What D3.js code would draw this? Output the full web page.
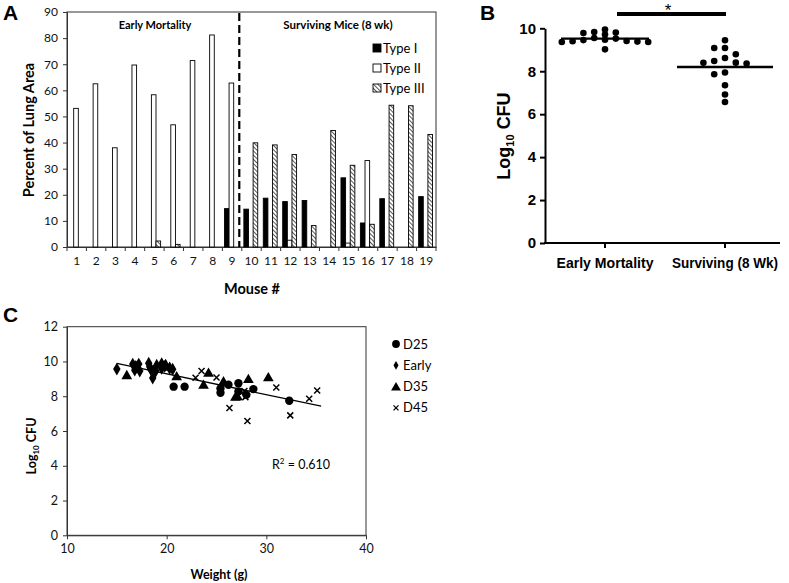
<!DOCTYPE html>
<html><head><meta charset="utf-8">
<script src="https://cdn.jsdelivr.net/npm/d3@7"></script>
<style>body{margin:0;background:#fff} svg{display:block}</style>
</head><body><svg id="chart" width="789" height="583"></svg>
<script>
// ---------- Panel A data ----------
const mice = d3.range(1, 20).map(String);
const typeI   = [0,0,0,0,0,0,0,0,14.7,14.5,18.7,17.4,17.8,0,26.5,9.2,18.5,0,19.3];
const typeII  = [53.1,62.5,38,69.7,58.3,46.8,71.4,81.2,62.8,0,0,2.6,0,0,1.5,33.1,0,0,0];
const typeIII = [0,0,0,0,2.3,1.0,0,0,0,39.9,39.1,35.4,8.2,44.6,31.3,8.7,54.3,54.1,43.1];
const seriesNamesA = ["Type I","Type II","Type III"];
const yTicksA = d3.range(0, 91, 10);
const groupLabelsA = ["Early Mortality","Surviving Mice (8 wk)"];

// ---------- Panel B data ----------
const groupsB = ["Early Mortality","Surviving (8 Wk)"];
const earlyCFU = [9.94,9.83,9.80,9.78,9.71,9.55,9.52,9.47,9.45,9.41,9.40,9.38,9.36,9.36,9.02];
const survivingCFU = [9.44,9.08,9.08,8.79,8.62,8.48,8.40,8.39,8.36,7.94,7.86,7.35,6.92,6.57];
const medianB = [9.52, 8.20];
const yTicksB = [0,2,4,6,8,10];

// ---------- Panel C data ----------
const d25Pts = [[20.7,8.55],[21.8,8.55],[25.4,8.45],[25.4,8.2],[26.2,8.66],[27.2,8.75],[27.2,8.28],[28.0,8.08],[28.7,8.41],[32.3,7.74]];
const earlyPts = [[15.0,9.56],[16.6,9.85],[16.9,9.72],[17.2,9.85],[16.8,9.5],[17.3,9.45],[18.2,9.9],[18.4,9.55],[18.6,9.05],[18.3,9.7],[18.9,9.45],[19.5,9.6],[19.8,9.72],[20.3,9.6],[20.6,9.55]];
const d35Pts = [[16.0,9.22],[19.0,9.85],[19.5,9.95],[19.9,9.85],[20.3,9.7],[21.0,9.15],[23.7,8.66],[24.2,9.35],[25.7,8.86],[26.9,7.98],[27.1,8.0],[28.2,9.0],[30.2,9.1]];
const d45Pts = [[22.9,9.06],[23.5,9.45],[25.0,9.08],[26.3,7.32],[27.8,8.3],[27.9,7.95],[28.1,6.58],[31.0,8.5],[32.4,6.9],[34.3,7.85],[35.1,8.33]];
const seriesNamesC = ["D25","Early","D35","D45"];
const fitSlope = -0.12, fitIntercept = 11.69, fitRange = [15, 35.5];
const r2Value = "0.610";
const xTicksC = [10,20,30,40];
const yTicksC = [0,2,4,6,8,10,12];

const svg = d3.select("#chart");
const fA = "Lato, 'Open Sans', sans-serif";
const fB = "'Liberation Sans Narrow', 'Liberation Sans', Arial, sans-serif";

const defs = svg.append("defs");
const pat = defs.append("pattern").attr("id","hatch").attr("patternUnits","userSpaceOnUse")
  .attr("width",3).attr("height",3).attr("patternTransform","rotate(-45)");
pat.append("rect").attr("width",3).attr("height",3).attr("fill","#fff");
pat.append("line").attr("x1",0).attr("y1",0).attr("x2",0).attr("y2",3).attr("stroke","#000").attr("stroke-width",1.3);

[["A",3,20],["B",480,20],["C",3,322]].forEach(([t,x,y])=>{
  svg.append("text").attr("x",x).attr("y",y).text(t)
    .attr("font-family","'Liberation Sans', Arial, sans-serif").attr("font-weight","bold").attr("font-size",21);
});

// ================= Panel A =================
(function(){
  const L=67,R=436,T=12,B=247;
  const x = d3.scaleBand().domain(mice).range([L,R]);
  const y = d3.scaleLinear().domain([0,90]).range([B,T]);
  const g = svg.append("g");
  g.append("rect").attr("x",L).attr("y",T).attr("width",R-L).attr("height",B-T)
    .attr("fill","none").attr("stroke","#333").attr("stroke-width",1);
  const ay = g.append("g").attr("transform",`translate(${L},0)`)
    .call(d3.axisLeft(y).tickValues(yTicksA).tickSize(4).tickSizeOuter(0));
  ay.select(".domain").attr("stroke","#333");
  ay.selectAll("line").attr("stroke","#333");
  ay.selectAll("text").attr("font-family",fA).attr("font-size",12).attr("fill","#111").attr("x",-9);
  const ax = g.append("g").attr("transform",`translate(0,${B})`)
    .call(d3.axisBottom(x).tickSize(0).tickPadding(9));
  ax.select(".domain").attr("stroke","#333");
  ax.selectAll("text").attr("font-family",fA).attr("font-size",12).attr("fill","#111");
  g.selectAll(".bt").data(d3.range(0,20)).join("line")
    .attr("x1",i=>L+i*x.step()).attr("x2",i=>L+i*x.step())
    .attr("y1",B).attr("y2",B+4).attr("stroke","#333");
  const inner = d3.scaleBand().domain(seriesNamesA).range([0,x.bandwidth()]).paddingOuter(0.6);
  const fills = ["#000","#fff","url(#hatch)"];
  const vals = [typeI,typeII,typeIII];
  seriesNamesA.forEach((s,si)=>{
    g.selectAll(".b"+si).data(mice.map((m,i)=>({m,v:vals[si][i]})).filter(d=>d.v>0)).join("rect")
      .attr("x",d=>x(d.m)+inner(s)-0.7).attr("width",inner.bandwidth())
      .attr("y",d=>y(d.v)).attr("height",d=>B-y(d.v))
      .attr("fill",fills[si]).attr("stroke","#000").attr("stroke-width",0.9);
  });
  const xd = x("10")-2.5;
  g.append("line").attr("x1",xd).attr("x2",xd).attr("y1",T+1).attr("y2",B)
    .attr("stroke","#000").attr("stroke-width",2.2).attr("stroke-dasharray","8,4");
  g.append("text").attr("x",155).attr("y",29).attr("text-anchor","middle").text(groupLabelsA[0])
    .attr("font-family",fA).attr("font-weight","bold").attr("font-size",11);
  g.append("text").attr("x",338).attr("y",29).attr("text-anchor","middle").text(groupLabelsA[1])
    .attr("font-family",fA).attr("font-weight","bold").attr("font-size",11.5);
  seriesNamesA.forEach((s,i)=>{
    const yy = 48 + i*20;
    g.append("rect").attr("x",373).attr("y",yy-4).attr("width",8).attr("height",8)
      .attr("fill",fills[i]).attr("stroke","#000").attr("stroke-width",0.9);
    g.append("text").attr("x",383).attr("y",yy+4.5).text(s)
      .attr("font-family",fA).attr("font-size",13);
  });
  g.append("text").attr("transform","translate(34,130) rotate(-90)").attr("text-anchor","middle")
    .text("Percent of Lung Area").attr("font-family",fA).attr("font-weight","bold").attr("font-size",14.5);
  g.append("text").attr("x",252).attr("y",294).attr("text-anchor","middle")
    .text("Mouse #").attr("font-family",fA).attr("font-weight","bold").attr("font-size",14.5);
})();

// ================= Panel B =================
(function(){
  const L=545,T=28.3,B=243;
  const y = d3.scaleLinear().domain([0,10]).range([B,T]);
  const x = d3.scalePoint().domain(groupsB).range([545,785]).padding(0.5);
  const g = svg.append("g");
  const ay = g.append("g").attr("transform",`translate(${L},0)`)
    .call(d3.axisLeft(y).tickValues(yTicksB).tickSize(5).tickSizeOuter(0).tickPadding(4));
  ay.select(".domain").attr("stroke","#000").attr("stroke-width",2);
  ay.selectAll("line").attr("stroke","#000").attr("stroke-width",2);
  ay.selectAll("text").attr("font-family",fB).attr("font-weight","bold").attr("font-size",15).attr("fill","#000");
  g.append("line").attr("x1",L-1).attr("x2",780).attr("y1",B).attr("y2",B).attr("stroke","#000").attr("stroke-width",2);
  const labW = [97, 106];
  groupsB.forEach((gn,i)=>{
    g.append("line").attr("x1",x(gn)).attr("x2",x(gn)).attr("y1",B).attr("y2",B+5).attr("stroke","#000").attr("stroke-width",2);
    g.append("text").attr("x",x(gn)).attr("y",268).attr("text-anchor","middle").text(gn)
      .attr("font-family",fB).attr("font-weight","bold").attr("font-size",14.5)
      .attr("textLength",labW[i]).attr("lengthAdjust","spacingAndGlyphs");
  });
  function swarm(values, cx, minDist){
    const step=10.8, placed=[];
    values.slice().sort((a,b)=>b-a).forEach(v=>{
      const yy=y(v);
      outer: for(let k=0;k<20;k++){
        for(const o of (k===0?[0]:[-k,k])){
          const xx=cx+o*step;
          if(!placed.some(p=>Math.abs(p.x-xx)<1 && Math.abs(p.y-yy)<minDist)){placed.push({x:xx,y:yy});break outer;}
        }
      }
    });
    return placed;
  }
  const gaps = [4.6, 7];
  [earlyCFU,survivingCFU].forEach((vals,i)=>{
    const cx=x(groupsB[i]);
    g.selectAll(".d"+i).data(swarm(vals,cx,gaps[i])).join("circle")
      .attr("cx",d=>d.x).attr("cy",d=>d.y).attr("r",3.3).attr("fill","#000");
    const hw = i===0?44:48;
    g.append("line").attr("x1",cx-hw).attr("x2",cx+hw).attr("y1",y(medianB[i])).attr("y2",y(medianB[i]))
      .attr("stroke","#000").attr("stroke-width",2.4);
  });
  g.append("line").attr("x1",617).attr("x2",726).attr("y1",14).attr("y2",14).attr("stroke","#000").attr("stroke-width",4);
  g.append("text").attr("x",668).attr("y",16).attr("text-anchor","middle").text("*")
    .attr("font-family",fB).attr("font-size",17);
  const t = g.append("text").attr("transform","translate(510,136) rotate(-90)").attr("text-anchor","middle")
    .attr("font-family",fB).attr("font-weight","bold").attr("font-size",18);
  t.append("tspan").text("Log");
  t.append("tspan").text("10").attr("font-size",11).attr("dy",4);
  t.append("tspan").text(" CFU").attr("dy",-4);
})();

// ================= Panel C =================
(function(){
  const L=67,R=366,T=326.7,B=535.3;
  const x = d3.scaleLinear().domain([10,40]).range([L,R]);
  const y = d3.scaleLinear().domain([0,12]).range([B,T]);
  const g = svg.append("g");
  g.append("rect").attr("x",L).attr("y",T).attr("width",R-L).attr("height",B-T)
    .attr("fill","none").attr("stroke","#333").attr("stroke-width",1);
  const ay = g.append("g").attr("transform",`translate(${L},0)`)
    .call(d3.axisLeft(y).tickValues(yTicksC).tickSize(4).tickSizeOuter(0));
  ay.select(".domain").attr("stroke","#333");
  ay.selectAll("line").attr("stroke","#333");
  ay.selectAll("text").attr("font-family",fA).attr("font-size",12.5).attr("fill","#111").attr("x",-9);
  const ax = g.append("g").attr("transform",`translate(0,${B})`)
    .call(d3.axisBottom(x).tickValues(xTicksC).tickSize(4).tickSizeOuter(0).tickPadding(5));
  ax.select(".domain").attr("stroke","#333");
  ax.selectAll("line").attr("stroke","#333");
  ax.selectAll("text").attr("font-family",fA).attr("font-size",12.5).attr("fill","#111");
  g.append("line").attr("x1",x(fitRange[0])).attr("y1",y(fitIntercept+fitSlope*fitRange[0]))
    .attr("x2",x(fitRange[1])).attr("y2",y(fitIntercept+fitSlope*fitRange[1]))
    .attr("stroke","#000").attr("stroke-width",1.3);
  const sym = {
    D25: d3.symbol().type(d3.symbolCircle).size(55),
    Early: d3.symbol().type(d3.symbolDiamond).size(48),
    D35: d3.symbol().type(d3.symbolTriangle).size(50)
  };
  const legSym = {
    D25: d3.symbol().type(d3.symbolCircle).size(48),
    Early: d3.symbol().type(d3.symbolDiamond).size(22),
    D35: d3.symbol().type(d3.symbolTriangle).size(42)
  };
  const sets = {D25:d25Pts, Early:earlyPts, D35:d35Pts, D45:d45Pts};
  ["D25","Early","D35","D45"].forEach(name=>{
    const pts = sets[name];
    if(name==="D45"){
      g.selectAll(".m"+name).data(pts).join("path")
        .attr("transform",d=>`translate(${x(d[0])},${y(d[1])})`)
        .attr("d","M-3,-3L3,3M-3,3L3,-3").attr("stroke","#000").attr("stroke-width",1.5).attr("fill","none");
    } else {
      const yo = name==="D35"?1:0;
      g.selectAll(".m"+name).data(pts).join("path")
        .attr("transform",d=>`translate(${x(d[0])},${y(d[1])+yo})`)
        .attr("d",sym[name]()).attr("fill","#000");
    }
  });
  seriesNamesC.forEach((name,i)=>{
    const yy = 344 + i*21.3;
    if(name==="D45"){
      g.append("path").attr("transform",`translate(396,${yy})`).attr("d","M-2.5,-2.5L2.5,2.5M-2.5,2.5L2.5,-2.5")
        .attr("stroke","#000").attr("stroke-width",1.3);
    } else {
      g.append("path").attr("transform",`translate(396,${yy+(name==="D35"?1:0)})`).attr("d",legSym[name]()).attr("fill","#000");
    }
    g.append("text").attr("x",403).attr("y",yy+4.5).text(name).attr("font-family",fA).attr("font-size",13);
  });
  const r = g.append("text").attr("x",272).attr("y",469).attr("font-family",fA).attr("font-size",12.5);
  r.append("tspan").text("R");
  r.append("tspan").text("2").attr("font-size",8).attr("dy",-5);
  r.append("tspan").text(" = " + r2Value).attr("dy",5);
  g.append("text").attr("x",219).attr("y",579).attr("text-anchor","middle").text("Weight (g)")
    .attr("font-family",fA).attr("font-weight","bold").attr("font-size",12.5);
  const t = g.append("text").attr("transform","translate(36,446) rotate(-90)").attr("text-anchor","middle")
    .attr("font-family",fA).attr("font-weight","bold").attr("font-size",12.5);
  t.append("tspan").text("Log");
  t.append("tspan").text("10").attr("font-size",8).attr("dy",3);
  t.append("tspan").text(" CFU").attr("dy",-3);
})();
</script>
</body></html>
